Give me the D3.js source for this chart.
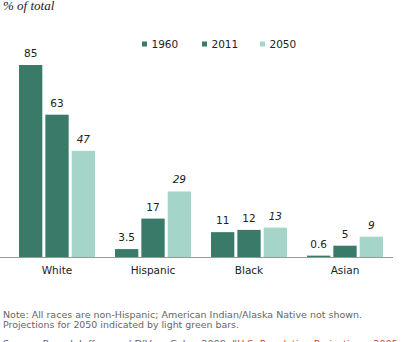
<!DOCTYPE html>
<html>
<head>
<meta charset="utf-8">
<script src="https://cdn.jsdelivr.net/npm/d3@7"></script>
<style>
  body { margin: 0; background: #fff; }
  svg { display: block; }
</style>
</head>
<body>
<script>
const groups = ['White', 'Hispanic', 'Black', 'Asian'];
const years = ['1960', '2011', '2050'];
const share1960 = [85, 3.5, 11, 0.6];
const share2011 = [63, 17, 12, 5];
const share2050 = [47, 29, 13, 9];
const labels1960 = ['85', '3.5', '11', '0.6'];
const labels2011 = ['63', '17', '12', '5'];
const labels2050 = ['47', '29', '13', '9'];

const width = 411, height = 342;
const dark = '#3a7a69', light = '#a5d4c8';
const colors = {'1960': dark, '2011': dark, '2050': light};

// one row per bar
let data = [];
groups.forEach((g, i) => {
  data.push({group: g, year: '1960', value: share1960[i], label: labels1960[i]});
  data.push({group: g, year: '2011', value: share2011[i], label: labels2011[i]});
  data.push({group: g, year: '2050', value: share2050[i], label: labels2050[i]});
});

const svg = d3.select('body').append('svg')
  .attr('width', width)
  .attr('height', height);

let x0 = d3.scaleBand()
  .domain(groups)
  .range([9, 393])
  .paddingInner(20 / 96)
  .paddingOuter(10 / 96);

let x1 = d3.scaleBand()
  .domain(years)
  .range([0, x0.bandwidth()])
  .paddingInner(0.115)
  .paddingOuter(0);

let y = d3.scaleLinear()
  .domain([0, 85])
  .range([257, 65]);

svg.append('text')
  .attr('x', 3)
  .attr('y', 10)
  .attr('font-family', '"Liberation Serif", serif')
  .attr('font-style', 'italic')
  .attr('font-size', 13)
  .attr('fill', '#1a1a2a')
  .text('% of total');

// legend
const legend = svg.append('g')
  .selectAll('g')
  .data(years)
  .join('g')
    .attr('transform', (d, i) => `translate(${[142, 202, 260][i]},0)`);

legend.append('rect')
  .attr('x', 0)
  .attr('y', 41.5)
  .attr('width', 5)
  .attr('height', 5)
  .attr('fill', d => colors[d]);

legend.append('text')
  .attr('x', 9.5)
  .attr('y', 48.3)
  .attr('font-family', '"DejaVu Sans", sans-serif')
  .attr('font-size', 10.5)
  .attr('fill', '#222')
  .text(d => d);

svg.append('g')
  .selectAll('rect')
  .data(data)
  .join('rect')
    .attr('x', d => x0(d.group) + x1(d.year))
    .attr('y', d => y(d.value))
    .attr('width', x1.bandwidth())
    .attr('height', d => y(0) - y(d.value))
    .attr('fill', d => colors[d.year]);

svg.append('g')
  .selectAll('text')
  .data(data)
  .join('text')
    .attr('x', d => x0(d.group) + x1(d.year) + x1.bandwidth() / 2)
    .attr('y', d => y(d.value) - 8)
    .attr('text-anchor', 'middle')
    .attr('font-family', '"DejaVu Sans", sans-serif')
    .attr('font-size', 10.5)
    .attr('font-style', d => d.year === '2050' ? 'italic' : 'normal')
    .attr('fill', '#222')
    .text(d => d.label);

// x axis: plain baseline with category names
let xAxis = g => g
  .attr('transform', `translate(0,${y(0)})`)
  .call(d3.axisBottom(x0).tickSize(0).tickPadding(0))
  .call(g => g.select('.domain').remove())
  .call(g => g.append('line')
      .attr('x1', 0).attr('x2', 393)
      .attr('y1', 0.5).attr('y2', 0.5)
      .attr('stroke', '#999'))
  .call(g => g.selectAll('.tick text')
      .attr('y', 17)
      .attr('dy', null)
      .attr('font-family', '"DejaVu Sans", sans-serif')
      .attr('font-size', 10.5)
      .attr('fill', '#222'));

svg.append('g').call(xAxis);

const notes = [
  {t: 'Note: All races are non-Hispanic; American Indian/Alaska Native not shown.', y: 317.7, w: 359},
  {t: 'Projections for 2050 indicated by light green bars.', y: 328, w: 236}
];

svg.append('g')
  .selectAll('text')
  .data(notes)
  .join('text')
    .attr('x', 3)
    .attr('y', d => d.y)
    .attr('font-family', '"DejaVu Sans", sans-serif')
    .attr('font-size', 9.5)
    .attr('fill', '#666')
    .attr('textLength', d => d.w)
    .attr('lengthAdjust', 'spacingAndGlyphs')
    .text(d => d.t);

const source = svg.append('text')
  .attr('x', 3)
  .attr('y', 347)
  .attr('font-family', '"DejaVu Sans", sans-serif')
  .attr('font-size', 9.5)
  .attr('fill', '#666')
  .attr('textLength', 395)
  .attr('lengthAdjust', 'spacingAndGlyphs');
source.append('tspan').text('Source: Passel, Jeffrey and D\u2019Vera Cohn. 2008. \u201C');
source.append('tspan').attr('fill', '#c0502a').text('U.S. Population Projections: 2005');
</script>
</body>
</html>
